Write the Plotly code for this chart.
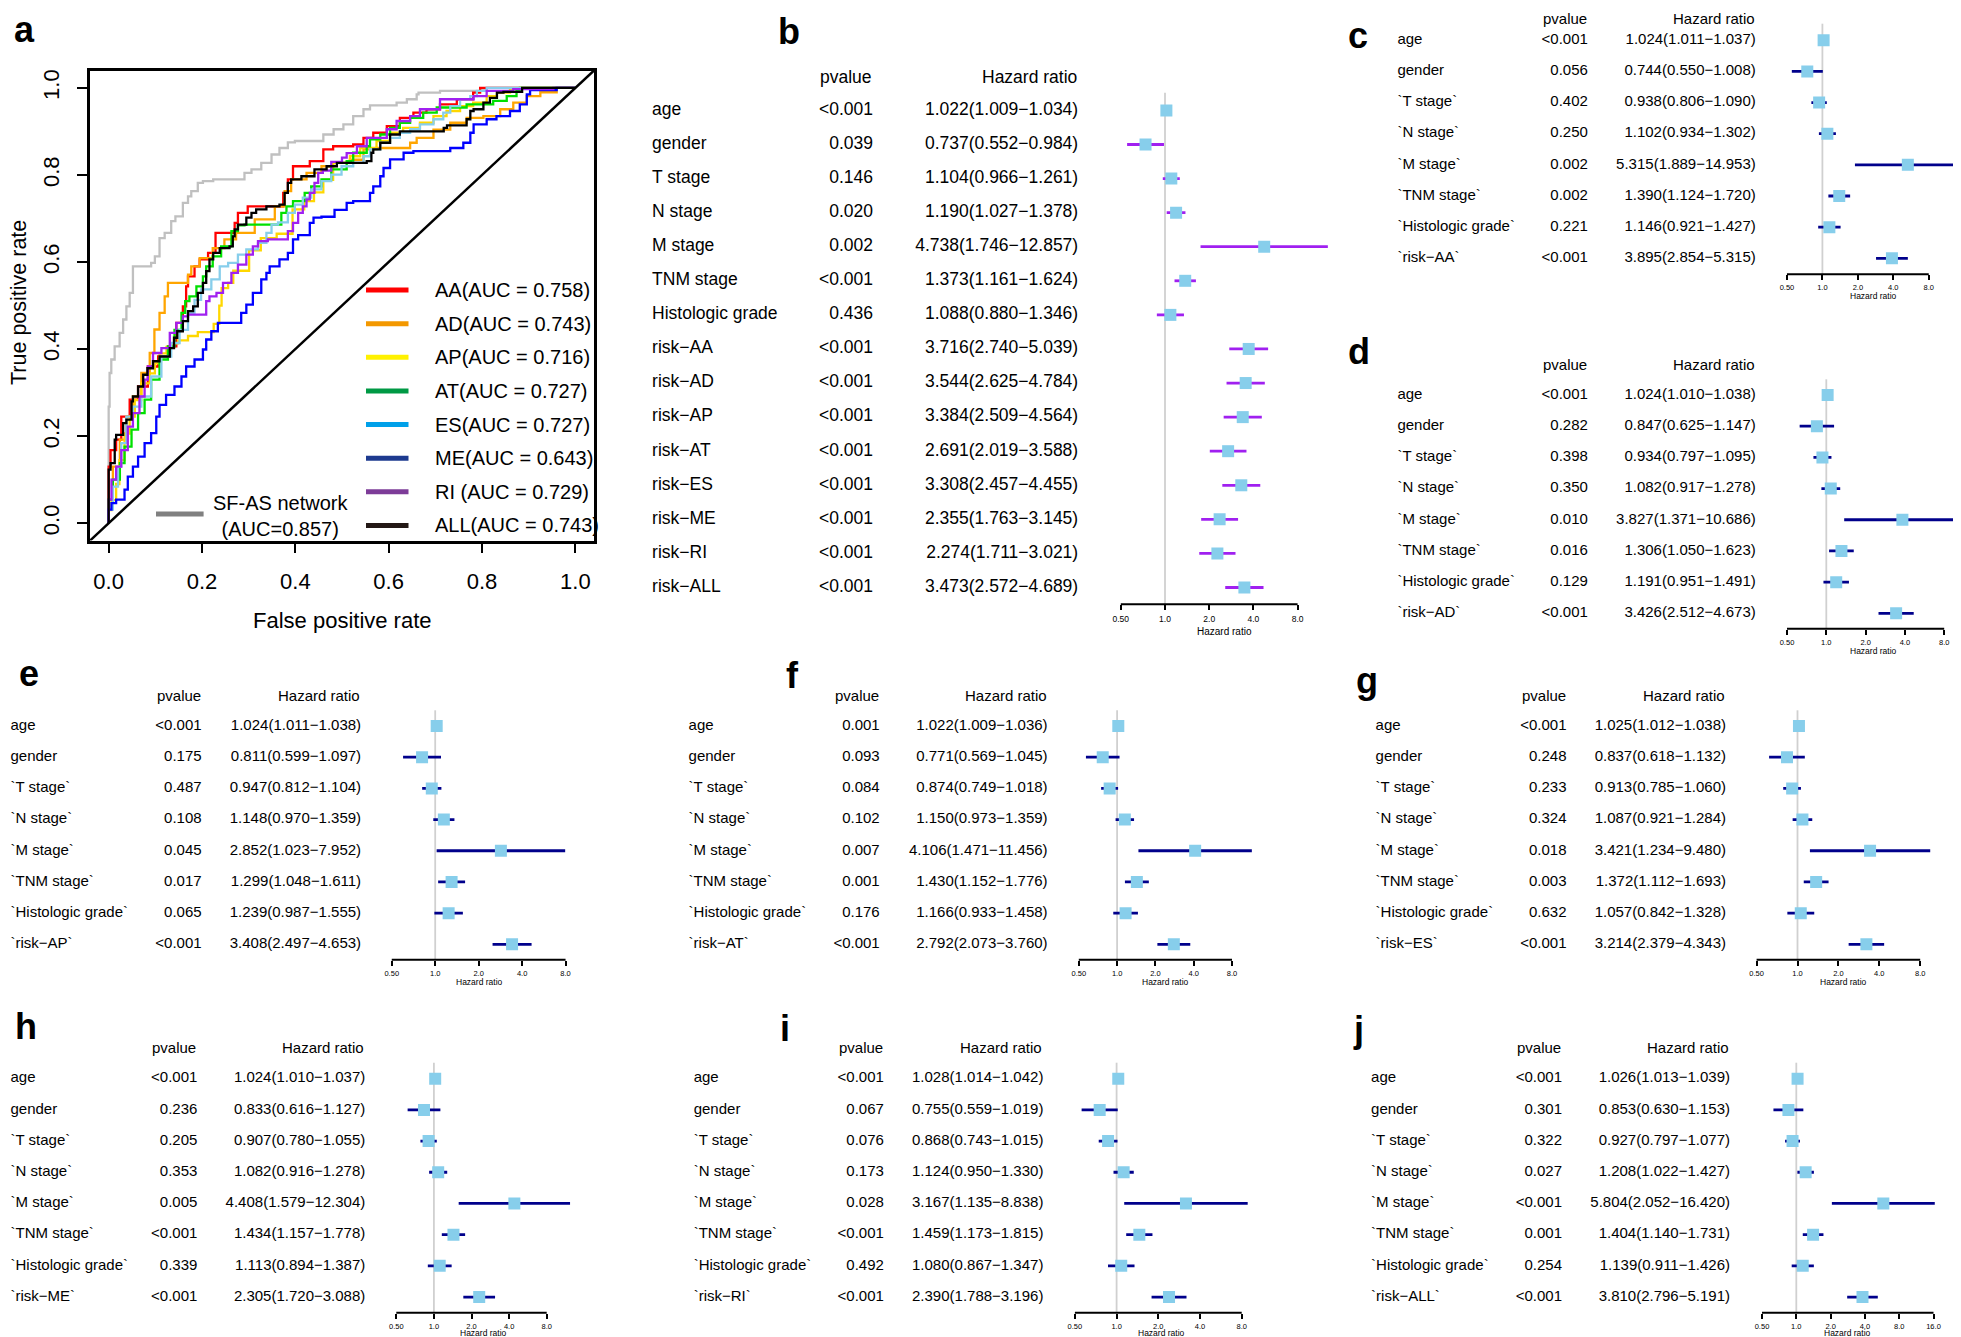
import math
import plotly.graph_objects as go

W, H = 1961, 1337
SX, SY = 8, 7   # global offset correction (pixels)
SANS = "Liberation Sans, Arial, Helvetica, sans-serif"

# ======================= DATA: ROC (panel a) =======================
roc_names = ["AA", "AD", "AP", "AT", "ES", "ME", "RI ", "ALL"]
roc_auc = [0.758, 0.743, 0.716, 0.727, 0.727, 0.643, 0.729, 0.743]
sfas_name = "SF-AS network"
sfas_auc = 0.857

fpr_sfas = [0, 0, 0.002, 0.0056, 0.0128, 0.0235, 0.031, 0.038, 0.045, 0.052, 0.059, 0.091, 0.099, 0.109, 0.12,
            0.134, 0.143, 0.159, 0.17, 0.177, 0.191, 0.202, 0.224, 0.238, 0.291, 0.306, 0.327, 0.349, 0.366, 0.384,
            0.399, 0.427, 0.46, 0.482, 0.503, 0.524, 0.546, 0.56, 0.617, 0.639, 0.66, 0.664, 0.71, 0.796, 0.81, 0.85, 1.0]
tpr_sfas = [0, 0.031, 0.268, 0.345, 0.376, 0.406, 0.437, 0.468, 0.498, 0.529, 0.59, 0.59, 0.598, 0.613, 0.655,
            0.667, 0.694, 0.705, 0.736, 0.751, 0.763, 0.782, 0.786, 0.79, 0.79, 0.805, 0.813, 0.828, 0.847, 0.862,
            0.875, 0.878, 0.878, 0.893, 0.905, 0.916, 0.935, 0.951, 0.96, 0.966, 0.974, 0.985, 0.989, 0.993, 0.998, 1.0, 1.0]

fpr_aa = [0, 0.004, 0.016, 0.027, 0.045, 0.063, 0.084, 0.106, 0.127, 0.145, 0.159, 0.166, 0.17, 0.184, 0.195, 0.213,
          0.229, 0.231, 0.27, 0.277, 0.298, 0.313, 0.374, 0.384, 0.395, 0.413, 0.431, 0.46, 0.481, 0.524, 0.546, 0.567,
          0.596, 0.624, 0.653, 0.681, 0.71, 0.746, 0.781, 0.796, 0.817, 1.0]
tpr_aa = [0, 0.13, 0.168, 0.192, 0.245, 0.284, 0.314, 0.36, 0.383, 0.406, 0.46, 0.498, 0.544, 0.567, 0.59, 0.606,
          0.621, 0.667, 0.667, 0.69, 0.713, 0.728, 0.728, 0.759, 0.79, 0.82, 0.82, 0.832, 0.859, 0.866, 0.87, 0.885,
          0.897, 0.912, 0.931, 0.943, 0.951, 0.962, 0.974, 0.989, 1.0, 1.0]

fpr_ad = [0, 0.009, 0.024, 0.038, 0.052, 0.07, 0.088, 0.098, 0.109, 0.12, 0.127, 0.149, 0.17, 0.177, 0.195, 0.223,
          0.248, 0.273, 0.313, 0.356, 0.377, 0.391, 0.413, 0.424, 0.456, 0.481, 0.517, 0.546, 0.574, 0.646, 0.66,
          0.696, 0.732, 0.767, 0.803, 0.839, 0.867, 0.896, 0.925, 0.96, 1.0]
tpr_ad = [0, 0.054, 0.13, 0.192, 0.245, 0.291, 0.345, 0.391, 0.445, 0.483, 0.521, 0.552, 0.552, 0.571, 0.59, 0.609,
          0.632, 0.652, 0.667, 0.698, 0.728, 0.763, 0.79, 0.79, 0.805, 0.82, 0.828, 0.835, 0.859, 0.862, 0.874,
          0.885, 0.904, 0.92, 0.931, 0.935, 0.951, 0.966, 0.981, 0.99, 1.0]

fpr_ap = [0, 0.006, 0.016, 0.023, 0.034, 0.045, 0.056, 0.07, 0.088, 0.099, 0.109, 0.124, 0.138, 0.149, 0.17, 0.191,
          0.225, 0.237, 0.242, 0.256, 0.267, 0.301, 0.326, 0.36, 0.394, 0.419, 0.44, 0.46, 0.481, 0.517, 0.539, 0.574,
          0.603, 0.631, 0.667, 0.696, 0.724, 0.753, 0.781, 0.81, 0.832, 0.86, 0.882, 1.0]
tpr_ap = [0, 0.03, 0.053, 0.09, 0.145, 0.206, 0.245, 0.283, 0.321, 0.344, 0.367, 0.39, 0.405, 0.413, 0.42, 0.43,
          0.439, 0.458, 0.5, 0.54, 0.552, 0.58, 0.627, 0.655, 0.665, 0.721, 0.74, 0.76, 0.789, 0.828, 0.843, 0.862,
          0.878, 0.897, 0.908, 0.92, 0.935, 0.947, 0.958, 0.966, 0.981, 0.989, 0.997, 1.0]

fpr_at = [0, 0.009, 0.024, 0.034, 0.049, 0.063, 0.077, 0.091, 0.109, 0.127, 0.141, 0.156, 0.164, 0.173, 0.188, 0.202,
          0.209, 0.223, 0.241, 0.263, 0.277, 0.291, 0.37, 0.381, 0.395, 0.42, 0.434, 0.456, 0.477, 0.51, 0.524, 0.553,
          0.56, 0.582, 0.603, 0.624, 0.646, 0.674, 0.703, 0.767, 0.824, 0.853, 0.874, 0.881, 0.92, 1.0]
tpr_at = [0, 0.054, 0.1, 0.138, 0.176, 0.215, 0.253, 0.284, 0.33, 0.376, 0.406, 0.444, 0.483, 0.51, 0.521, 0.544,
          0.567, 0.59, 0.613, 0.636, 0.671, 0.684, 0.686, 0.713, 0.728, 0.74, 0.759, 0.774, 0.79, 0.813, 0.832, 0.851,
          0.866, 0.882, 0.893, 0.908, 0.92, 0.931, 0.943, 0.955, 0.962, 0.97, 0.981, 0.993, 1.0, 1.0]

fpr_es = [0, 0.009, 0.02, 0.027, 0.038, 0.052, 0.07, 0.091, 0.113, 0.134, 0.152, 0.17, 0.184, 0.198, 0.22, 0.238,
          0.256, 0.277, 0.295, 0.32, 0.338, 0.349, 0.363, 0.384, 0.399, 0.416, 0.434, 0.456, 0.477, 0.499, 0.524, 0.546,
          0.56, 0.582, 0.603, 0.624, 0.646, 0.667, 0.696, 0.717, 0.732, 0.753, 0.775, 0.789, 0.81, 0.824, 1.0]
tpr_es = [0, 0.031, 0.084, 0.13, 0.184, 0.245, 0.268, 0.291, 0.337, 0.383, 0.414, 0.444, 0.483, 0.513, 0.537, 0.56,
          0.59, 0.598, 0.617, 0.629, 0.644, 0.667, 0.686, 0.691, 0.713, 0.732, 0.748, 0.767, 0.786, 0.801, 0.82, 0.828,
          0.843, 0.859, 0.874, 0.885, 0.897, 0.905, 0.916, 0.928, 0.943, 0.958, 0.974, 0.981, 0.993, 1.0, 1.0]

fpr_me = [0, 0.006, 0.016, 0.034, 0.041, 0.052, 0.063, 0.077, 0.091, 0.102, 0.109, 0.123, 0.141, 0.156, 0.166, 0.184,
          0.202, 0.209, 0.22, 0.234, 0.245, 0.284, 0.295, 0.309, 0.327, 0.338, 0.345, 0.366, 0.384, 0.395, 0.406, 0.431,
          0.439, 0.456, 0.484, 0.51, 0.524, 0.56, 0.567, 0.582, 0.589, 0.603, 0.632, 0.653, 0.732, 0.76, 0.775, 0.782,
          0.81, 0.831, 0.86, 0.881, 0.896, 0.903, 0.96, 1.0]
tpr_me = [0, 0.031, 0.046, 0.054, 0.077, 0.107, 0.13, 0.153, 0.184, 0.207, 0.245, 0.272, 0.295, 0.314, 0.337, 0.36,
          0.376, 0.399, 0.422, 0.441, 0.46, 0.46, 0.483, 0.502, 0.529, 0.56, 0.575, 0.59, 0.606, 0.621, 0.652, 0.662,
          0.69, 0.702, 0.704, 0.72, 0.736, 0.74, 0.759, 0.774, 0.797, 0.816, 0.836, 0.851, 0.855, 0.862, 0.874, 0.897,
          0.916, 0.928, 0.935, 0.947, 0.962, 0.985, 0.995, 1.0]

fpr_ri = [0, 0.006, 0.016, 0.027, 0.041, 0.052, 0.066, 0.077, 0.084, 0.095, 0.113, 0.131, 0.145, 0.159, 0.17, 0.209,
          0.216, 0.231, 0.245, 0.263, 0.277, 0.295, 0.309, 0.32, 0.341, 0.384, 0.395, 0.406, 0.416, 0.424, 0.431, 0.441,
          0.449, 0.459, 0.477, 0.5, 0.51, 0.532, 0.553, 0.596, 0.617, 0.646, 0.667, 0.71, 0.782, 0.81, 0.867, 0.953, 1.0]
tpr_ri = [0, 0.054, 0.1, 0.13, 0.168, 0.222, 0.253, 0.291, 0.33, 0.36, 0.391, 0.402, 0.437, 0.46, 0.475, 0.479,
          0.51, 0.521, 0.529, 0.552, 0.575, 0.594, 0.617, 0.636, 0.648, 0.652, 0.671, 0.69, 0.713, 0.728, 0.744, 0.759,
          0.782, 0.805, 0.81, 0.83, 0.84, 0.85, 0.866, 0.885, 0.905, 0.924, 0.935, 0.951, 0.974, 0.981, 0.993, 0.997, 1.0]

fpr_all = [0, 0.004, 0.013, 0.016, 0.031, 0.038, 0.049, 0.052, 0.063, 0.074, 0.083, 0.095, 0.109, 0.131, 0.14, 0.147,
           0.159, 0.17, 0.181, 0.191, 0.202, 0.209, 0.216, 0.224, 0.238, 0.259, 0.266, 0.27, 0.277, 0.295, 0.306, 0.316,
           0.338, 0.366, 0.377, 0.384, 0.391, 0.413, 0.441, 0.467, 0.489, 0.553, 0.563, 0.567, 0.582, 0.603, 0.624,
           0.646, 0.718, 0.725, 0.767, 0.775, 0.782, 0.803, 0.817, 0.832, 0.846, 0.886, 1.0]
tpr_all = [0, 0.123, 0.138, 0.192, 0.203, 0.23, 0.238, 0.28, 0.291, 0.314, 0.341, 0.356, 0.372, 0.383, 0.402, 0.426,
           0.441, 0.464, 0.487, 0.498, 0.529, 0.552, 0.579, 0.606, 0.621, 0.632, 0.636, 0.659, 0.675, 0.686, 0.702, 0.713,
           0.721, 0.728, 0.732, 0.759, 0.782, 0.79, 0.797, 0.813, 0.82, 0.828, 0.832, 0.851, 0.859, 0.874, 0.893,
           0.9, 0.9, 0.908, 0.914, 0.928, 0.947, 0.951, 0.966, 0.977, 0.989, 0.991, 1.0]

roc_fpr = [fpr_aa, fpr_ad, fpr_ap, fpr_at, fpr_es, fpr_me, fpr_ri, fpr_all]
roc_tpr = [tpr_aa, tpr_ad, tpr_ap, tpr_at, tpr_es, tpr_me, tpr_ri, tpr_all]
curve_colors = ["#ff0000", "#ffa500", "#ffd700", "#00e000", "#87ceeb", "#0000ff", "#a020f0", "#000000"]
legend_colors = ["#ff0000", "#f39800", "#fff100", "#009944", "#00a0e9", "#1d3a8f", "#7d3c98", "#231815"]
roc_ticks = [0.0, 0.2, 0.4, 0.6, 0.8, 1.0]
roc_ticktext = ["0.0", "0.2", "0.4", "0.6", "0.8", "1.0"]

# ======================= DATA: forest plots =======================
M = "\u2212"
vars_b = ["age", "gender", "T stage", "N stage", "M stage", "TNM stage", "Histologic grade",
          "risk" + M + "AA", "risk" + M + "AD", "risk" + M + "AP", "risk" + M + "AT", "risk" + M + "ES",
          "risk" + M + "ME", "risk" + M + "RI", "risk" + M + "ALL"]
p_b = ["<0.001", "0.039", "0.146", "0.020", "0.002", "<0.001", "0.436", "<0.001", "<0.001", "<0.001", "<0.001",
       "<0.001", "<0.001", "<0.001", "<0.001"]
hr_b = [1.022, 0.737, 1.104, 1.190, 4.738, 1.373, 1.088, 3.716, 3.544, 3.384, 2.691, 3.308, 2.355, 2.274, 3.473]
lo_b = [1.009, 0.552, 0.966, 1.027, 1.746, 1.161, 0.880, 2.740, 2.625, 2.509, 2.019, 2.457, 1.763, 1.711, 2.572]
hi_b = [1.034, 0.984, 1.261, 1.378, 12.857, 1.624, 1.346, 5.039, 4.784, 4.564, 3.588, 4.455, 3.145, 3.021, 4.689]

base_vars = ["age", "gender", "`T stage`", "`N stage`", "`M stage`", "`TNM stage`", "`Histologic grade`"]
vars_c = base_vars + ["`risk" + M + "AA`"]
p_c = ["<0.001", "0.056", "0.402", "0.250", "0.002", "0.002", "0.221", "<0.001"]
hr_c = [1.024, 0.744, 0.938, 1.102, 5.315, 1.390, 1.146, 3.895]
lo_c = [1.011, 0.550, 0.806, 0.934, 1.889, 1.124, 0.921, 2.854]
hi_c = [1.037, 1.008, 1.090, 1.302, 14.953, 1.720, 1.427, 5.315]

vars_d = base_vars + ["`risk" + M + "AD`"]
p_d = ["<0.001", "0.282", "0.398", "0.350", "0.010", "0.016", "0.129", "<0.001"]
hr_d = [1.024, 0.847, 0.934, 1.082, 3.827, 1.306, 1.191, 3.426]
lo_d = [1.010, 0.625, 0.797, 0.917, 1.371, 1.050, 0.951, 2.512]
hi_d = [1.038, 1.147, 1.095, 1.278, 10.686, 1.623, 1.491, 4.673]

vars_e = base_vars + ["`risk" + M + "AP`"]
p_e = ["<0.001", "0.175", "0.487", "0.108", "0.045", "0.017", "0.065", "<0.001"]
hr_e = [1.024, 0.811, 0.947, 1.148, 2.852, 1.299, 1.239, 3.408]
lo_e = [1.011, 0.599, 0.812, 0.970, 1.023, 1.048, 0.987, 2.497]
hi_e = [1.038, 1.097, 1.104, 1.359, 7.952, 1.611, 1.555, 4.653]

vars_f = base_vars + ["`risk" + M + "AT`"]
p_f = ["0.001", "0.093", "0.084", "0.102", "0.007", "0.001", "0.176", "<0.001"]
hr_f = [1.022, 0.771, 0.874, 1.150, 4.106, 1.430, 1.166, 2.792]
lo_f = [1.009, 0.569, 0.749, 0.973, 1.471, 1.152, 0.933, 2.073]
hi_f = [1.036, 1.045, 1.018, 1.359, 11.456, 1.776, 1.458, 3.760]

vars_g = base_vars + ["`risk" + M + "ES`"]
p_g = ["<0.001", "0.248", "0.233", "0.324", "0.018", "0.003", "0.632", "<0.001"]
hr_g = [1.025, 0.837, 0.913, 1.087, 3.421, 1.372, 1.057, 3.214]
lo_g = [1.012, 0.618, 0.785, 0.921, 1.234, 1.112, 0.842, 2.379]
hi_g = [1.038, 1.132, 1.060, 1.284, 9.480, 1.693, 1.328, 4.343]

vars_h = base_vars + ["`risk" + M + "ME`"]
p_h = ["<0.001", "0.236", "0.205", "0.353", "0.005", "<0.001", "0.339", "<0.001"]
hr_h = [1.024, 0.833, 0.907, 1.082, 4.408, 1.434, 1.113, 2.305]
lo_h = [1.010, 0.616, 0.780, 0.916, 1.579, 1.157, 0.894, 1.720]
hi_h = [1.037, 1.127, 1.055, 1.278, 12.304, 1.778, 1.387, 3.088]

vars_i = base_vars + ["`risk" + M + "RI`"]
p_i = ["<0.001", "0.067", "0.076", "0.173", "0.028", "<0.001", "0.492", "<0.001"]
hr_i = [1.028, 0.755, 0.868, 1.124, 3.167, 1.459, 1.080, 2.390]
lo_i = [1.014, 0.559, 0.743, 0.950, 1.135, 1.173, 0.867, 1.788]
hi_i = [1.042, 1.019, 1.015, 1.330, 8.838, 1.815, 1.347, 3.196]

vars_j = base_vars + ["`risk" + M + "ALL`"]
p_j = ["<0.001", "0.301", "0.322", "0.027", "<0.001", "0.001", "0.254", "<0.001"]
hr_j = [1.026, 0.853, 0.927, 1.208, 5.804, 1.404, 1.139, 3.810]
lo_j = [1.013, 0.630, 0.797, 1.022, 2.052, 1.140, 0.911, 2.796]
hi_j = [1.039, 1.153, 1.077, 1.427, 16.420, 1.731, 1.426, 5.191]

fp_ticks = [0.5, 1, 2, 4, 8]
fp_ticktext = ["0.50", "1.0", "2.0", "4.0", "8.0"]
fp_ticks_j = [0.5, 1, 2, 4, 8, 16]
fp_ticktext_j = ["0.50", "1.0", "2.0", "4.0", "8.0", "16.0"]

# ======================= FIGURE =======================
def fx(p):
    return (p - SX) / W


def fy(p):
    return 1 - (p - SY) / H


fig = go.Figure()
layout = dict(width=W, height=H, margin=dict(l=0, r=0, t=0, b=0, pad=0),
              paper_bgcolor="white", plot_bgcolor="rgba(0,0,0,0)", showlegend=False)
annotations = []
shapes = []


def ann(x, y, text, size, family=SANS, xanchor="left", yanchor="middle", bold=False, angle=0):
    t = "<b>%s</b>" % text if bold else text
    annotations.append(dict(x=fx(x), y=fy(y), xref="paper", yref="paper", text=t, showarrow=False,
                            xanchor=xanchor, yanchor=yanchor, textangle=angle, borderpad=0,
                            font=dict(family=family, size=size, color="black")))


# ---------- panel a : ROC ----------
axis_common = dict(showline=True, mirror=True, linecolor="black", linewidth=2.5, ticks="outside", ticklen=10,
                   tickwidth=2, tickcolor="black", tickvals=roc_ticks, ticktext=roc_ticktext,
                   tickfont=dict(family=SANS, size=22, color="black"), showgrid=False, zeroline=False,
                   range=[-0.04, 1.04], fixedrange=True)
layout["xaxis"] = dict(axis_common, domain=[fx(90), fx(594)], anchor="y", ticklabelstandoff=9)
layout["yaxis"] = dict(axis_common, domain=[fy(539.6), fy(69.5)], anchor="x", tickangle=-90, ticklabelstandoff=9)

shapes.append(dict(type="line", xref="x", yref="y", x0=-0.04, y0=-0.04, x1=1.04, y1=1.04,
                   line=dict(color="black", width=2.5)))

fig.add_trace(go.Scatter(x=fpr_sfas, y=tpr_sfas, mode="lines", line=dict(color="#c0c0c0", width=2.3, shape="vh"),
                         xaxis="x", yaxis="y"))
for k in range(len(roc_names)):
    fig.add_trace(go.Scatter(x=roc_fpr[k], y=roc_tpr[k], mode="lines",
                             line=dict(color=curve_colors[k], width=2.3, shape="vh"), xaxis="x", yaxis="y"))

# legend (manual)
for k in range(len(roc_names)):
    yy = 289 + k * 33.64
    shapes.append(dict(type="line", xref="paper", yref="paper", x0=fx(366), x1=fx(408.5), y0=fy(yy), y1=fy(yy),
                       line=dict(color=legend_colors[k], width=5)))
    ann(433.5, yy, "%s(AUC = %.3f)" % (roc_names[k], roc_auc[k]), 20)
shapes.append(dict(type="line", xref="paper", yref="paper", x0=fx(156), x1=fx(203.6), y0=fy(513), y1=fy(513),
                   line=dict(color="#808080", width=5)))
ann(280, 514.7, "%s<br>(AUC=%.3f)" % (sfas_name, sfas_auc), 20, xanchor="center")

ann(342, 619, "False positive rate", 22, xanchor="center")
ann(19, 302, "True positive rate", 21.5, xanchor="center", angle=-90)
ann(13, 28.2, "a", 36, bold=True)

# ---------- forest panels ----------
layout["xaxis2"] = dict(domain=[0, 1], range=[SX, W + SX], visible=False, anchor="free", position=0,
                        fixedrange=True)

NT = 15.0   # table font for panels c-j
panels = [
    dict(L="b", vars=vars_b, p=p_b, hr=hr_b, lo=lo_b, hi=hi_b, txt=17.5, tk=8.5, hlf=10,
         lab_x=652.1, p_r=873, hr_r=1078.2,
         head_y=75.5, r0=109.4, s=34.08, p1=1165, D=44.2, ax=603.3, top=91.8, hl=(1224.2, 630.6),
         fx0=1100, fx1=1340, ticks=fp_ticks, tt=fp_ticktext, ci="#a020f0", let=(777, 30.3)),
    dict(L="c", vars=vars_c, p=p_c, hr=hr_c, lo=lo_c, hi=hi_c, txt=NT, tk=7.5, hlf=8.5,
         lab_x=1397.4, p_r=1587.9, hr_r=1755.8,
         head_y=18, r0=39.3, s=31.14, p1=1822.4, D=35.45, ax=273.3, top=22.7, hl=(1873.5, 295.3),
         fx0=1770, fx1=W + SX, ticks=fp_ticks, tt=fp_ticktext, ci="#00008b", let=(1347, 34.1)),
    dict(L="d", vars=vars_d, p=p_d, hr=hr_d, lo=lo_d, hi=hi_d, txt=NT, tk=7.5, hlf=8.5,
         lab_x=1397.4, p_r=1587.9, hr_r=1755.8,
         head_y=363.3, r0=394, s=31.19, p1=1826.3, D=39.3, ax=627.7, top=378.3, hl=(1873.5, 650.3),
         fx0=1770, fx1=W + SX, ticks=fp_ticks, tt=fp_ticktext, ci="#00008b", let=(1347, 350.5)),
    dict(L="e", vars=vars_e, p=p_e, hr=hr_e, lo=lo_e, hi=hi_e, txt=NT, tk=7.5, hlf=8.5,
         lab_x=10.5, p_r=201.6, hr_r=361.1,
         head_y=694, r0=725, s=31.19, p1=435.2, D=43.45, ax=958.7, top=709.3, hl=(479, 981.3),
         fx0=375, fx1=650, ticks=fp_ticks, tt=fp_ticktext, ci="#00008b", let=(18, 672.4)),
    dict(L="f", vars=vars_f, p=p_f, hr=hr_f, lo=lo_f, hi=hi_f, txt=NT, tk=7.5, hlf=8.5,
         lab_x=688.6, p_r=879.7, hr_r=1047.6,
         head_y=694, r0=725, s=31.19, p1=1117.1, D=38.3, ax=958.7, top=709.3, hl=(1165, 981.3),
         fx0=1060, fx1=1310, ticks=fp_ticks, tt=fp_ticktext, ci="#00008b", let=(785, 674.1)),
    dict(L="g", vars=vars_g, p=p_g, hr=hr_g, lo=lo_g, hi=hi_g, txt=NT, tk=7.5, hlf=8.5,
         lab_x=1375.6, p_r=1566.5, hr_r=1726,
         head_y=694, r0=725, s=31.19, p1=1797.5, D=40.9, ax=958.7, top=709.3, hl=(1843.7, 981.3),
         fx0=1740, fx1=W + SX, ticks=fp_ticks, tt=fp_ticktext, ci="#00008b", let=(1355, 679.1)),
    dict(L="h", vars=vars_h, p=p_h, hr=hr_h, lo=lo_h, hi=hi_h, txt=NT, tk=7.5, hlf=8.5,
         lab_x=10.5, p_r=197.4, hr_r=365.3,
         head_y=1046.7, r0=1077.7, s=31.19, p1=433.9, D=37.6, ax=1311.7, top=1061.7, hl=(483.2, 1332),
         fx0=380, fx1=650, ticks=fp_ticks, tt=fp_ticktext, ci="#00008b", let=(14, 1025.7)),
    dict(L="i", vars=vars_i, p=p_i, hr=hr_i, lo=lo_i, hi=hi_i, txt=NT, tk=7.5, hlf=8.5,
         lab_x=693.7, p_r=883.9, hr_r=1043.4,
         head_y=1046.7, r0=1077.7, s=31.19, p1=1116.6, D=41.7, ax=1311.7, top=1061.7, hl=(1161.3, 1332),
         fx0=1060, fx1=1310, ticks=fp_ticks, tt=fp_ticktext, ci="#00008b", let=(779, 1027.4)),
    dict(L="j", vars=vars_j, p=p_j, hr=hr_j, lo=lo_j, hi=hi_j, txt=NT, tk=7.5, hlf=8.5,
         lab_x=1371.1, p_r=1562, hr_r=1730,
         head_y=1046.7, r0=1077.7, s=31.19, p1=1796.3, D=34.3, ax=1311.7, top=1061.7, hl=(1847.8, 1332),
         fx0=1745, fx1=W + SX, ticks=fp_ticks_j, tt=fp_ticktext_j, ci="#00008b", let=(1352, 1028.4)),
]

L2 = math.log10(2)
for i, g in enumerate(panels):
    yid, xid = 2 + i, 3 + i
    ya, xa = "y%d" % yid, "x%d" % xid
    n = len(g["vars"])
    rows = list(range(n))

    def rv(p, g=g):
        return (p - g["r0"]) / g["s"]

    layout["yaxis%d" % yid] = dict(domain=[fy(g["ax"]), fy(g["top"])], range=[rv(g["ax"]), rv(g["top"])],
                                   visible=False, anchor=xa, fixedrange=True)
    layout["xaxis%d" % xid] = dict(domain=[fx(g["fx0"]), min(1.0, fx(g["fx1"]))], type="log",
                                   range=[(g["fx0"] - g["p1"]) / g["D"] * L2,
                                          (min(g["fx1"], W + SX) - g["p1"]) / g["D"] * L2],
                                   anchor=ya, showline=False, showgrid=False, zeroline=False, ticks="outside",
                                   ticklen=5, tickwidth=1.5, tickcolor="black", tickvals=g["ticks"], ticktext=g["tt"],
                                   tickfont=dict(family=SANS, size=g["tk"], color="black"), ticklabelstandoff=1,
                                   fixedrange=True)
    # reference line at HR = 1 and the axis line
    shapes.append(dict(type="line", xref=xa, yref=ya + " domain", x0=1, x1=1, y0=0, y1=1, layer="below",
                       line=dict(color="#d0d0d0", width=1.8)))
    shapes.append(dict(type="line", xref=xa, yref=ya + " domain", x0=g["ticks"][0], x1=g["ticks"][-1], y0=0, y1=0,
                       line=dict(color="black", width=2)))
    # CI segments
    cx, cy = [], []
    for k in rows:
        cx += [g["lo"][k], g["hi"][k], None]
        cy += [k, k, None]
    fig.add_trace(go.Scatter(x=cx, y=cy, mode="lines", line=dict(color=g["ci"], width=2.8), xaxis=xa, yaxis=ya))
    fig.add_trace(go.Scatter(x=g["hr"], y=rows, mode="markers", xaxis=xa, yaxis=ya,
                             marker=dict(symbol="square", size=12, color="#87ceeb", line=dict(width=0))))
    # table columns
    tf = dict(family=SANS, size=g["txt"], color="black")
    hr_txt = ["%.3f(%.3f%s%.3f)" % (g["hr"][k], g["lo"][k], M, g["hi"][k]) for k in rows]
    fig.add_trace(go.Scatter(x=[g["lab_x"]] * n, y=rows, text=g["vars"], mode="text", textposition="middle right",
                             textfont=tf, xaxis="x2", yaxis=ya, cliponaxis=False))
    fig.add_trace(go.Scatter(x=[g["p_r"]] * n, y=rows, text=g["p"], mode="text", textposition="middle left",
                             textfont=tf, xaxis="x2", yaxis=ya, cliponaxis=False))
    fig.add_trace(go.Scatter(x=[g["hr_r"]] * n, y=rows, text=hr_txt, mode="text", textposition="middle left",
                             textfont=tf, xaxis="x2", yaxis=ya, cliponaxis=False))
    # headers, axis label, panel letter
    ann(g["p_r"], g["head_y"], "pvalue", g["txt"], xanchor="right")
    ann(g["hr_r"], g["head_y"], "Hazard ratio", g["txt"], xanchor="right")
    ann(g["hl"][0], g["hl"][1], "Hazard ratio", g["hlf"], xanchor="center")
    ann(g["let"][0], g["let"][1], g["L"], 36, bold=True)

layout["annotations"] = annotations
layout["shapes"] = shapes
fig.update_layout(**layout)
fig.write_html("out.html")
